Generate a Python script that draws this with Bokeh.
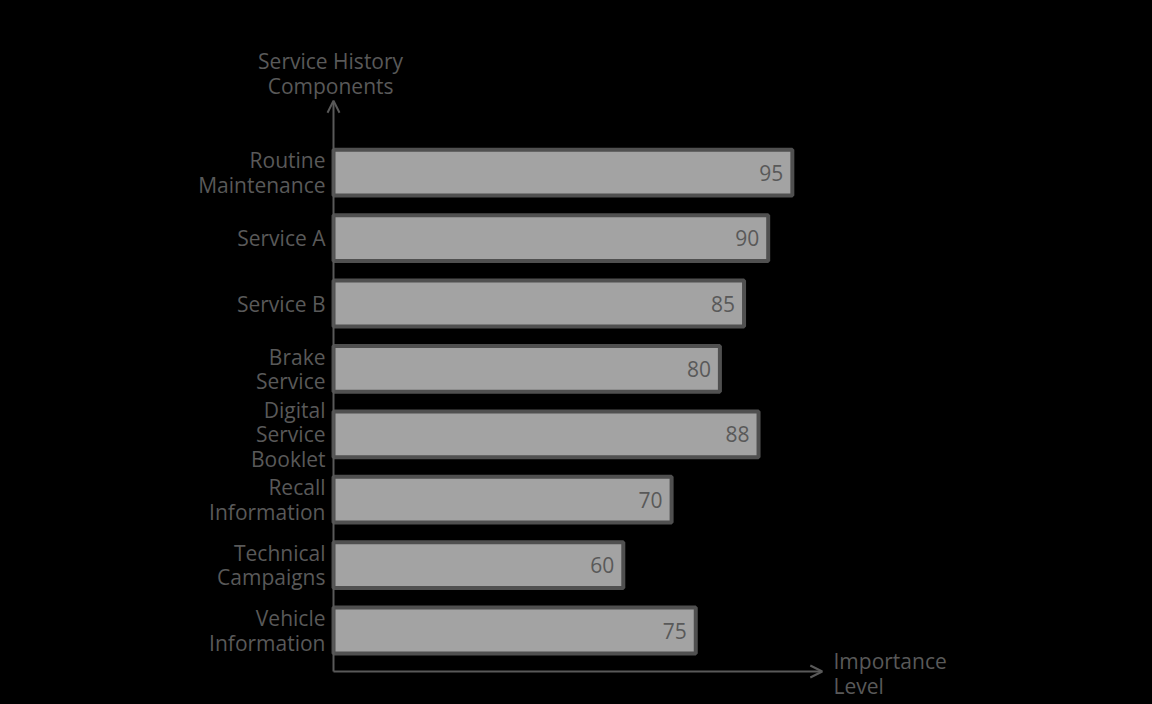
from bokeh.plotting import figure
from bokeh.models import ColumnDataSource, Arrow, OpenHead, Range1d
from bokeh.core.properties import value
from bokeh.embed import file_html
from bokeh.resources import INLINE

categories = ["Routine\nMaintenance", "Service A", "Service B", "Brake\nService",
              "Digital\nService\nBooklet", "Recall\nInformation", "Technical\nCampaigns",
              "Vehicle\nInformation"]
values = [95, 90, 85, 80, 88, 70, 60, 75]
y_title = "Service History\nComponents"
x_title = "Importance\nLevel"

FONT = "Open Sans"
FS = "21px"
LH = 0.88
TXT = "#595959"
BAR_FILL = "#a3a3a3"
BAR_LINE = "#505050"

n = len(categories)
ypos = [n - 1 - i for i in range(n)]
src = ColumnDataSource(dict(y=ypos, v=values, lab=[str(v) for v in values], cat=categories))

W, H = 1152, 704
# layout: page x = 333 + 4.83*v ; page y = 630 - 65.4*u ; canvas at page (0, 0)
px_x, ox = 4.83, 333.0
px_y, oy = 65.4, 630.0
x0 = (0 - ox) / px_x
x1 = (W - ox) / px_x
y1 = (oy - 0) / px_y
y0 = (oy - H) / px_y

p = figure(width=W, height=H, output_backend="svg", toolbar_location=None,
           x_range=Range1d(x0, x1), y_range=Range1d(y0, y1),
           background_fill_color="black", border_fill_color="black",
           min_border=0)
p.outline_line_color = None
p.grid.visible = False
p.axis.visible = False

p.hbar(y="y", right="v", left=0, height=0.7, source=src,
       fill_color=BAR_FILL, line_color=BAR_LINE, line_width=4)
p.text(x="v", y="y", text="lab", source=src, x_offset=-9, text_align="right",
       text_baseline="middle", text_font=value(FONT), text_font_size=FS,
       text_color=TXT)
p.text(x=0, y="y", text="cat", source=src, x_offset=-8, text_align="right",
       text_baseline="middle", text_font=value(FONT), text_font_size=FS,
       text_color=TXT, text_line_height=LH)

axis_y = -0.627
p.add_layout(Arrow(end=OpenHead(size=12, line_color=TXT, line_width=2),
                   x_start=0, y_start=axis_y, x_end=0, y_end=8.1,
                   line_color=TXT, line_width=2))
p.add_layout(Arrow(end=OpenHead(size=12, line_color=TXT, line_width=2),
                   x_start=0, y_start=axis_y, x_end=101.2, y_end=axis_y,
                   line_color=TXT, line_width=2))

p.text(x=[-0.6], y=[(oy - 73) / px_y], text=[y_title], text_align="center",
       text_baseline="middle", text_font=value(FONT), text_font_size=FS,
       text_color=TXT, text_line_height=LH)
p.text(x=[(833 - ox) / px_x], y=[(oy - 673) / px_y], text=[x_title], text_align="left",
       text_baseline="middle", text_font=value(FONT), text_font_size=FS,
       text_color=TXT, text_line_height=LH)

html = file_html(p, INLINE)
html = html.replace("<head>", "<head><style>html,body{background:#000;margin:0;padding:0;overflow:hidden;}</style>", 1)
open("out.html", "w").write(html)
